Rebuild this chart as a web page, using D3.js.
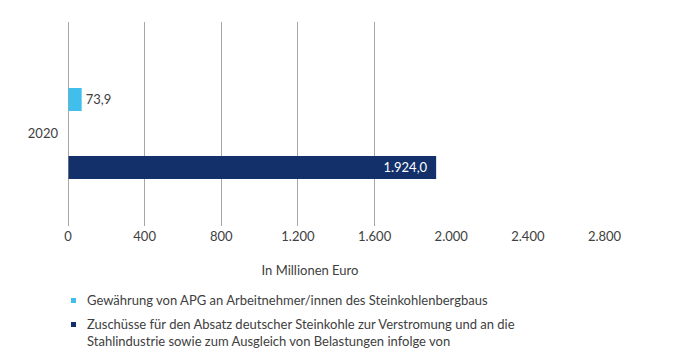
<!DOCTYPE html>
<html><head><meta charset="utf-8">
<script src="https://cdn.jsdelivr.net/npm/d3@7/dist/d3.min.js"></script>
<style>body{margin:0;background:#fff}svg{display:block}text{font-family:Lato,"Open Sans",sans-serif;fill:#404040}</style>
</head><body>
<svg id="c" width="678" height="358"></svg>
<script>
const categories = ["2020"];
const seriesNames = [
  "Gewährung von APG an Arbeitnehmer/innen des Steinkohlenbergbaus",
  "Zuschüsse für den Absatz deutscher Steinkohle zur Verstromung und an die Stahlindustrie sowie zum Ausgleich von Belastungen infolge von"
];
const legendLines = [
  ["Gewährung von APG an Arbeitnehmer/innen des Steinkohlenbergbaus"],
  ["Zuschüsse für den Absatz deutscher Steinkohle zur Verstromung und an die", "Stahlindustrie sowie zum Ausgleich von Belastungen infolge von"]
];
const apgValues = [73.9];
const zuschuesseValues = [1924.0];
const valueLabels = [["73,9"], ["1.924,0"]];
const tickValues = [0, 400, 800, 1200, 1600, 2000, 2400, 2800];
const tickLabels = ["0", "400", "800", "1.200", "1.600", "2.000", "2.400", "2.800"];
const gridMax = 1600;
const colors = ["#41BFEC", "#13306A"];
const axisTitle = "In Millionen Euro";

const svg = d3.select("#c");
const x = d3.scaleLinear().domain([0, 2800]).range([67.5, 604]);
const yCat = d3.scaleBand().domain(categories).range([22, 226]);
const ySub = d3.scaleBand().domain([0, 1]).range([88, 179]).paddingInner(0.662).paddingOuter(0);

// gridlines
svg.append("g").selectAll("line").data(tickValues.filter(v => v <= gridMax)).join("line")
  .attr("x1", d => Math.round(x(d)) + 0.5).attr("x2", d => Math.round(x(d)) + 0.5)
  .attr("y1", 22).attr("y2", 226).attr("stroke", "#A6A6A6").attr("stroke-width", 1);

// tick labels via axis
const ax = svg.append("g").attr("transform", "translate(0,232)")
  .call(d3.axisBottom(x).tickValues(tickValues).tickFormat((d, i) => tickLabels[i]).tickSize(0).tickPadding(0));
ax.select(".domain").remove();
ax.selectAll("text").attr("font-size", 13).attr("dy", "0.71em").style("font-family", "Lato").attr("fill", "#404040");

// category label
svg.append("g").selectAll("text").data(categories).join("text")
  .attr("x", 58).attr("y", d => yCat(d) + yCat.bandwidth() / 2 + 14)
  .attr("text-anchor", "end").attr("font-size", 13).text(d => d);

const series = [apgValues, zuschuesseValues];
series.forEach((vals, si) => {
  const g = svg.append("g");
  g.selectAll("rect").data(vals).join("rect")
    .attr("x", x(0) + 1).attr("y", ySub(si))
    .attr("width", d => x(d) - x(0) - 1).attr("height", ySub.bandwidth())
    .attr("fill", colors[si]);
  g.selectAll("text").data(vals).join("text")
    .attr("x", d => si === 0 ? x(d) + 4 : x(d) - 9)
    .attr("y", ySub(si) + ySub.bandwidth() / 2 + 4.5)
    .attr("text-anchor", si === 0 ? "start" : "end")
    .attr("font-size", 13)
    .style("fill", si === 0 ? "#404040" : "#ffffff")
    .text((d, i) => valueLabels[si][i]);
});

// axis title
svg.append("text").attr("x", 310).attr("y", 275).attr("text-anchor", "middle")
  .attr("font-size", 13).text(axisTitle);

// legend
const legY = [298, 322];
legendLines.forEach((lines, i) => {
  svg.append("rect").attr("x", 71).attr("y", legY[i]).attr("width", 5).attr("height", 5).attr("fill", colors[i]);
  lines.forEach((l, j) => {
    svg.append("text").attr("x", 87).attr("y", legY[i] + 6.5 + j * 17).attr("font-size", 13).text(l);
  });
});
</script>
</body></html>
